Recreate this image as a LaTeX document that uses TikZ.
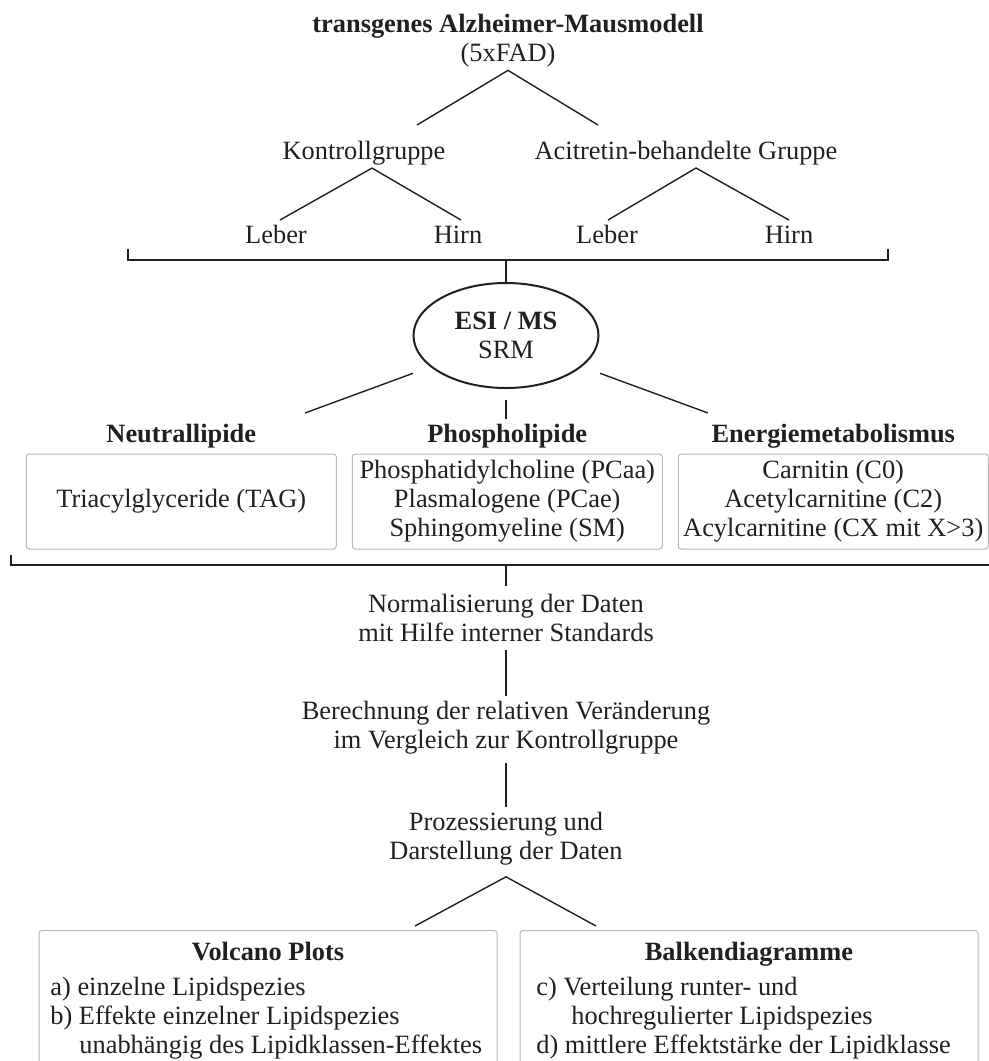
\documentclass[tikz,border=0pt]{standalone}
\usepackage{fontspec}
\setmainfont{Liberation Serif}
\usepackage{xcolor}
\usepackage{tikz}
\usetikzlibrary{shapes.geometric, positioning}
\definecolor{inkblack}{RGB}{35, 31, 32}
\definecolor{framegray}{RGB}{185, 185, 185}

\begin{document}
\begin{tikzpicture}[
    x=0.5pt, y=-0.5pt,
    txt/.style={font=\fontsize{13.2}{14.5}\selectfont, text=inkblack,
                inner sep=1.5pt, align=center},
    head/.style={txt, font=\fontsize{13.2}{14.5}\selectfont\bfseries},
    branch/.style={draw=inkblack, line width=0.7pt},
    stem/.style={branch, shorten <=2.5pt, shorten >=1pt},
    bracket/.style={draw=inkblack, line width=0.9pt},
    lipidbox/.style={txt, draw=framegray, rounded corners=1.5pt, line width=0.5pt,
                     minimum width=155pt, minimum height=47.5pt},
    resultbox/.style={draw=framegray, rounded corners=1.5pt, line width=0.5pt,
                      minimum width=229pt, minimum height=140pt},
]
    \useasboundingbox (0,0) rectangle (989,1061);
    \clip (0,0) rectangle (989,1061);

    % Mausmodell, Gruppen, Gewebe
    \node[txt] (model) at (508,40.5) {\textbf{transgenes Alzheimer-Mausmodell}\\(5xFAD)};
    \node[txt, anchor=base] (kontrolle) at (364,159) {Kontrollgruppe};
    \node[txt, anchor=base] (acitretin) at (686,159) {Acitretin-behandelte Gruppe};
    \node[txt, anchor=base] (leber1) at (276,243) {Leber};
    \node[txt, anchor=base] (hirn1) at (458,243) {Hirn};
    \node[txt, anchor=base] (leber2) at (607,243) {Leber};
    \node[txt, anchor=base] (hirn2) at (789,243) {Hirn};

    \coordinate (model-l) at (417,125);
    \coordinate (model-r) at (598,125);
    \coordinate (kontrolle-l) at (280,220);
    \coordinate (kontrolle-r) at (461,220);
    \coordinate (acitretin-l) at (608,220);
    \coordinate (acitretin-r) at (789,220);
    \draw[branch] (model-l) -- (model.south) -- (model-r);
    \draw[branch] (kontrolle-l) -- ([xshift=4pt]kontrolle.south) -- (kontrolle-r);
    \draw[branch] (acitretin-l) -- ([xshift=5pt]acitretin.south) -- (acitretin-r);

    % Proben -> Messung
    \coordinate (probe-l) at (128,249);
    \coordinate (probe-m) at (506,260);
    \coordinate (probe-r) at (888,249);
    \draw[bracket] (probe-l) |- (probe-m) -| (probe-r);

    \node[txt, ellipse, draw=inkblack, line width=1pt, inner sep=0pt,
          minimum width=92.5pt, minimum height=52.5pt] (esi) at (506,335.5)
        {\textbf{ESI / MS}\\SRM};
    \draw[branch] (probe-m) -- (esi.north);

    % Lipidklassen
    \node[lipidbox] (tag) at (181.25,501.5) {Triacylglyceride (TAG)};
    \node[lipidbox, right=7.5pt of tag] (pc)
        {Phosphatidylcholine (PCaa)\\Plasmalogene (PCae)\\Sphingomyeline (SM)};
    \node[lipidbox, right=7.5pt of pc] (carn)
        {Carnitin (C0)\\Acetylcarnitine (C2)\\Acylcarnitine (CX mit X>3)};
    \node[head, above=1pt of tag] (neutral) {Neutrallipide};
    \node[head, above=1pt of pc] (phospho) {Phospholipide};
    \node[head, above=1pt of carn] (energie) {Energiemetabolismus};

    \coordinate (neutral-e) at (305,413);
    \coordinate (energie-e) at (708,413);
    \draw[branch] ([xshift=-13.5pt]esi.south west) -- (neutral-e);
    \draw[branch, shorten <=5.5pt, shorten >=1pt] (esi.south) -- (esi.south |- phospho.north);
    \draw[branch] ([xshift=14pt]esi.south east) -- (energie-e);

    % Auswertung
    \coordinate (lipid-l) at (11,555);
    \coordinate (lipid-m) at (506,565);
    \coordinate (lipid-r) at (1001,555);
    \draw[bracket] (lipid-l) |- (lipid-m) -| (lipid-r);

    \node[txt] (norm) at (506,618) {Normalisierung der Daten\\mit Hilfe interner Standards};
    \node[txt, below=26.5pt of norm] (calc)
        {Berechnung der relativen Veränderung\\im Vergleich zur Kontrollgruppe};
    \node[txt, below=25.5pt of calc] (proz) {Prozessierung und\\Darstellung der Daten};
    \draw[branch, shorten >=2.5pt] (lipid-m) -- (norm.north);
    \draw[stem] (norm) -- (calc);
    \draw[stem] (calc) -- (proz);

    \coordinate (proz-l) at (415,926);
    \coordinate (proz-r) at (596,926);
    \draw[branch] (proz-l) -- ([yshift=-4pt]proz.south) -- (proz-r);

    % Darstellung
    \node[resultbox, anchor=north] (volcano) at (268,930) {};
    \node[resultbox, right=11pt of volcano] (balken) {};
    \node[head, below=4.5pt of volcano.north] (volcano-t) {Volcano Plots};
    \node[head, below=4.5pt of balken.north] (balken-t) {Balkendiagramme};
    \node[txt, align=left, anchor=north west] (volcano-l) at (47,974)
        {a) einzelne Lipidspezies\\b) Effekte einzelner Lipidspezies\\
         \hspace*{14.5pt}unabhängig des Lipidklassen-Effektes};
    \node[txt, align=left, anchor=north west] (balken-l) at (533,974)
        {c) Verteilung runter- und\\\hspace*{17.5pt}hochregulierter Lipidspezies\\
         d) mittlere Effektstärke der Lipidklasse};
\end{tikzpicture}
\end{document}
